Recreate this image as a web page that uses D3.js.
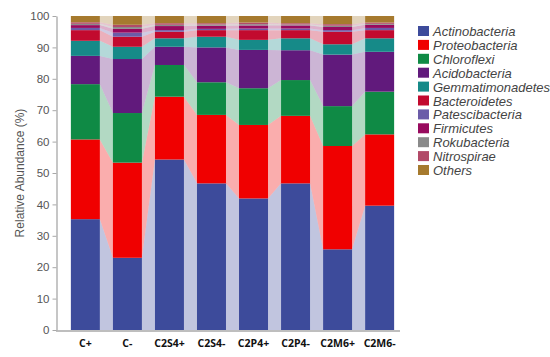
<!DOCTYPE html>
<html>
<head>
<meta charset="utf-8">
<script src="https://cdn.jsdelivr.net/npm/d3@7"></script>
<style>
  body { margin: 0; background: #fff; }
  svg { display: block; font-family: "Liberation Sans", Arial, sans-serif; }
</style>
</head>
<body>
<div id="chart"></div>
<script>
// samples on the x axis
var samples = ["C+", "C-", "C2S4+", "C2S4-", "C2P4+", "C2P4-", "C2M6+", "C2M6-"];
var phyla = ["Actinobacteria", "Proteobacteria", "Chloroflexi", "Acidobacteria",
  "Gemmatimonadetes", "Bacteroidetes", "Patescibacteria", "Firmicutes",
  "Rokubacteria", "Nitrospirae", "Others"];
var colors = ["#3d4b9b", "#f00000", "#0f8a45", "#611a7c", "#168a88", "#c20a2e",
  "#6b5ca8", "#980a5e", "#8a8a8a", "#b24a68", "#a67a2e"];

// relative abundance (%) per sample
var actinobacteria   = [35.3, 23.0, 54.3, 46.7, 41.9, 46.7, 25.7, 39.6];
var proteobacteria   = [25.4, 30.3, 20.0, 21.8, 23.4, 21.5, 32.9, 22.7];
var chloroflexi      = [17.6, 15.8, 10.1, 10.4, 11.7, 11.4, 12.7, 13.6];
var acidobacteria    = [9.0, 17.2, 5.8, 11.1, 12.2, 9.5, 16.4, 12.7];
var gemmatimonadetes = [4.8, 3.9, 2.7, 3.4, 3.2, 3.8, 3.3, 4.3];
var bacteroidetes    = [3.4, 3.2, 2.1, 2.1, 3.1, 2.6, 4.0, 2.6];
var patescibacteria  = [0.7, 1.3, 0.5, 0.4, 0.5, 0.5, 0.5, 0.7];
var firmicutes       = [0.9, 1.2, 1.3, 1.0, 1.0, 1.0, 1.0, 1.0];
var rokubacteria     = [0.4, 0.6, 0.4, 0.4, 0.4, 0.3, 0.4, 0.3];
var nitrospirae      = [0.5, 0.7, 0.5, 0.4, 0.5, 0.4, 0.5, 0.4];
var others           = [2.0, 2.8, 2.3, 2.3, 2.1, 2.3, 2.6, 2.1];

var yTicks = [0, 10, 20, 30, 40, 50, 60, 70, 80, 90, 100];

var series = [actinobacteria, proteobacteria, chloroflexi, acidobacteria,
  gemmatimonadetes, bacteroidetes, patescibacteria, firmicutes,
  rokubacteria, nitrospirae, others];

var width = 550, height = 357;

var table = samples.map(function(s, i) {
  var row = { sample: s };
  phyla.forEach(function(p, j) { row[p] = series[j][i]; });
  return row;
});

var stacked = d3.stack().keys(phyla)(table);

var x = d3.scaleBand()
  .domain(samples)
  .range([57, 408])
  .paddingInner(0.31)
  .paddingOuter(0.33);

var y = d3.scaleLinear().domain([0, 100]).range([330, 16]);

var color = d3.scaleOrdinal().domain(phyla).range(colors);

var svg = d3.select("#chart").append("svg")
  .attr("width", width)
  .attr("height", height);

// light connecting bands between neighbouring bars
var flows = svg.append("g").attr("class", "flows");
stacked.forEach(function(layer) {
  for (var i = 0; i < layer.length - 1; i++) {
    var a = layer[i], b = layer[i + 1];
    var xa = x(samples[i]) + x.bandwidth();
    var xb = x(samples[i + 1]);
    var pts = [[xa, y(a[0])], [xa, y(a[1])], [xb, y(b[1])], [xb, y(b[0])]];
    flows.append("polygon")
      .attr("points", pts.map(function(p) { return p.join(","); }).join(" "))
      .attr("fill", color(layer.key))
      .attr("fill-opacity", 0.32);
  }
});

// stacked bars
svg.append("g").selectAll("g")
  .data(stacked)
  .join("g")
  .attr("fill", function(d) { return color(d.key); })
  .selectAll("rect")
  .data(function(d) { return d; })
  .join("rect")
  .attr("x", function(d) { return x(d.data.sample); })
  .attr("y", function(d) { return y(d[1]); })
  .attr("width", x.bandwidth())
  .attr("height", function(d) { return y(d[0]) - y(d[1]); });

// y axis
var yAxis = svg.append("g")
  .attr("transform", "translate(56.5,0)")
  .call(d3.axisLeft(y).tickValues(yTicks).tickSize(4).tickSizeOuter(0).tickPadding(3));
yAxis.select(".domain").attr("stroke", "#a8a8a8").attr("stroke-width", 1.3);
yAxis.selectAll(".tick line").attr("stroke", "#a8a8a8");
yAxis.selectAll(".tick text")
  .attr("fill", "#555")
  .style("font-size", "11.5px")
  .style("font-family", "Liberation Sans, Arial, sans-serif");

svg.append("text")
  .attr("transform", "translate(24," + y(50) + ") rotate(-90)")
  .attr("text-anchor", "middle")
  .attr("fill", "#555")
  .style("font-size", "12px")
  .text("Relative Abundance (%)");

// x axis
svg.append("line")
  .attr("x1", 56).attr("x2", 400)
  .attr("y1", 331).attr("y2", 331)
  .attr("stroke", "#a8a8a8").attr("stroke-width", 1.3);

svg.append("g").selectAll("text")
  .data(samples)
  .join("text")
  .attr("x", function(d) { return x(d) + x.bandwidth() / 2; })
  .attr("y", 347)
  .attr("text-anchor", "middle")
  .attr("fill", "#111")
  .style("font-size", "10.5px")
  .style("font-weight", "bold")
  .style("font-family", "Open Sans, Liberation Sans, sans-serif")
  .text(function(d) { return d; });

// legend
var legend = svg.append("g").attr("transform", "translate(418,26)");
var rows = legend.selectAll("g")
  .data(phyla)
  .join("g")
  .attr("transform", function(d, i) { return "translate(0," + (i * 13.9) + ")"; });
rows.append("rect")
  .attr("width", 11).attr("height", 10)
  .attr("fill", function(d) { return color(d); });
rows.append("text")
  .attr("x", 15).attr("y", 10)
  .attr("fill", "#444")
  .style("font-size", "13px")
  .style("font-style", "italic")
  .text(function(d) { return d; });
</script>
</body>
</html>
